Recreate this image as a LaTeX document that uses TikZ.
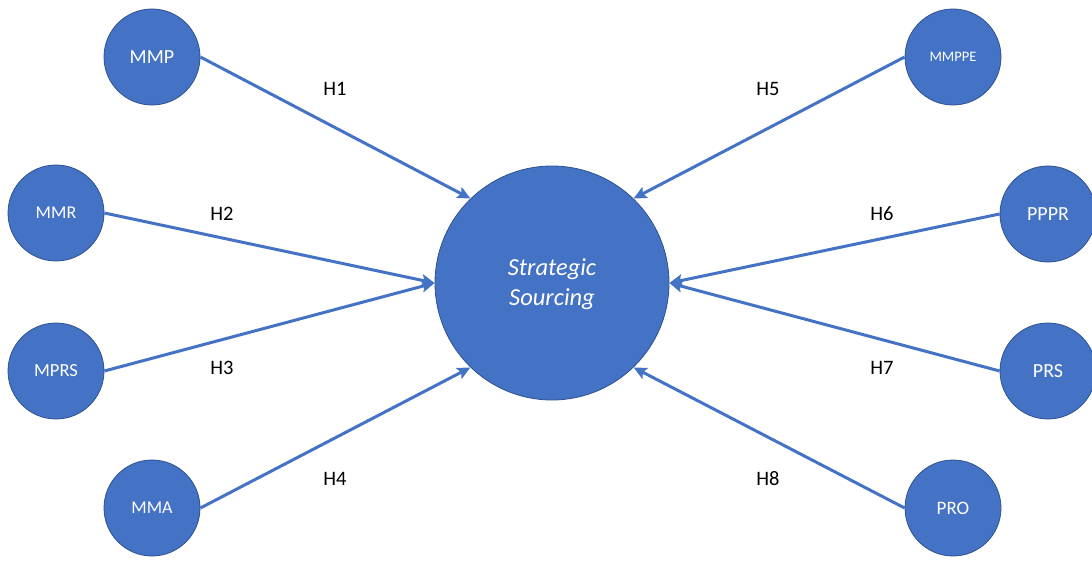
\documentclass[tikz,border=0pt]{standalone}
\usepackage{fontspec}
\setmainfont{Carlito}
\usetikzlibrary{arrows.meta}
\definecolor{ofill}{HTML}{4472C4}
\definecolor{oline}{HTML}{2F528F}
\tikzset{
  x=1pt,y=-1pt,
  small/.style={circle,fill=ofill,draw=oline,line width=0.8pt,minimum size=96pt,inner sep=0pt,text=white},
  big/.style={circle,fill=ofill,draw=oline,line width=0.8pt,minimum size=234pt,inner sep=0pt,text=white},
  link/.style={draw=ofill,line width=3pt,-{Stealth[length=13pt,width=12pt,inset=2.5pt]}},
  hlab/.style={font=\fontsize{20.5}{24}\selectfont,text=black}
}
\newcommand{\fs}[1]{\fontsize{#1}{#1}\selectfont}
\begin{document}
\begin{tikzpicture}
\useasboundingbox (0,0) rectangle (1092,561);
\node[big] (ss) at (552,283) {};
\node[align=center,text=white,font=\fontsize{24.5}{30}\selectfont\itshape] (sstxt) at (552,284) {Strategic\\Sourcing};
\node[small,font=\fs{20}] (mmp) at (152,57) {MMP};
\node[small,font=\fs{18}] (mmr) at (56,213) {MMR};
\node[small,font=\fs{18.5}] (mprs) at (56,371) {MPRS};
\node[small,font=\fs{18}] (mma) at (152,508) {MMA};
\node[small,font=\fs{14.5}] (mmppe) at (953,57) {MMPPE};
\node[small,font=\fs{20}] (pppr) at (1048,214) {PPPR};
\node[small,font=\fs{20}] (prs) at (1048,371) {PRS};
\node[small,font=\fs{19}] (pro) at (953,508) {PRO};
\draw[link] (mmp.east) -- (ss.134);
\draw[link] (mmr.east) -- (ss.180);
\draw[link] (mprs.east) -- (ss.180);
\draw[link] (mma.east) -- (ss.226);
\draw[link] (mmppe.west) -- (ss.46);
\draw[link] (pppr.west) -- (ss.0);
\draw[link] (prs.west) -- (ss.0);
\draw[link] (pro.west) -- (ss.314);
\node[hlab] (h1) at (335,89) {H1};
\node[hlab] (h2) at (222,214) {H2};
\node[hlab] (h3) at (222,368) {H3};
\node[hlab] (h4) at (335,479) {H4};
\node[hlab] (h5) at (768,89) {H5};
\node[hlab] (h6) at (882,214) {H6};
\node[hlab] (h7) at (882,368) {H7};
\node[hlab] (h8) at (768,479) {H8};
\end{tikzpicture}
\end{document}
